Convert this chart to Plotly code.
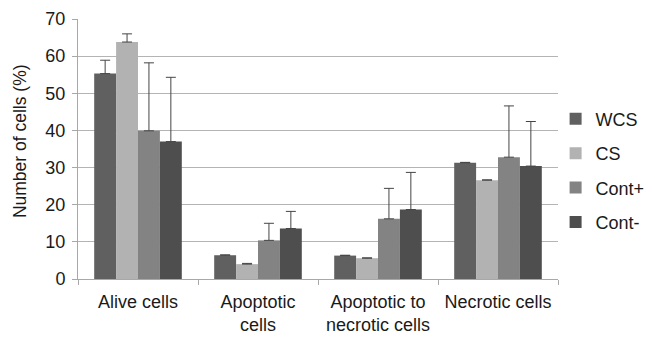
import plotly.graph_objects as go

categories = ["Alive cells", "Apoptotic<br>cells", "Apoptotic to<br>necrotic cells", "Necrotic cells"]
series_names = ["WCS", "CS", "Cont+", "Cont-"]
wcs = [55.3, 6.4, 6.3, 31.3]
cs = [63.8, 4.0, 5.6, 26.6]
cont_plus = [39.9, 10.4, 16.2, 32.8]
cont_minus = [37.0, 13.6, 18.7, 30.4]
wcs_err = [3.6, 0.1, 0.1, 0.1]
cs_err = [2.2, 0.2, 0.1, 0.1]
cont_plus_err = [18.3, 4.6, 8.2, 13.8]
cont_minus_err = [17.3, 4.6, 10.0, 12.0]
y_ticks = [0, 10, 20, 30, 40, 50, 60, 70]
y_title = "Number of cells (%)"

values = [wcs, cs, cont_plus, cont_minus]
errors = [wcs_err, cs_err, cont_plus_err, cont_minus_err]
colors = ["#606060", "#b2b2b2", "#838383", "#4e4e4e"]

FONT = "Liberation Sans, Arial, sans-serif"

fig = go.Figure()
for name, vals, errs, col in zip(series_names, values, errors, colors):
    fig.add_trace(go.Bar(
        name=name, x=categories, y=vals, legendgroup=name,
        marker=dict(color=col, line=dict(width=0)),
        error_y=dict(type="data", symmetric=False, array=errs,
                     arrayminus=[0] * len(errs), color="#454545",
                     thickness=1, width=5),
    ))

fig.update_layout(
    width=663, height=346,
    margin=dict(l=70, r=113, t=11, b=75),
    paper_bgcolor="white", plot_bgcolor="white",
    barmode="group", bargap=0.27, bargroupgap=0,
    font=dict(family=FONT, size=18, color="#1a1a1a"),
    legend=dict(x=0.995, y=0.417, xanchor="left", yanchor="middle",
                font=dict(size=18), traceorder="grouped",
                tracegroupgap=8, bgcolor="rgba(0,0,0,0)"),
    showlegend=True,
)
fig.add_annotation(
    text=y_title, xref="paper", yref="paper", x=-0.121, y=0.53,
    textangle=-90, showarrow=False, xanchor="center", yanchor="middle",
    font=dict(size=17.5, family=FONT, color="#1a1a1a"),
)
fig.update_xaxes(
    automargin=False, tickangle=0, ticklabelstandoff=6,
    showline=True, linecolor="#a8a8a8", linewidth=1,
    ticks="outside", tickson="boundaries", ticklen=5, tickcolor="#a8a8a8",
    tickfont=dict(size=18, family=FONT), showgrid=False,
)
fig.update_yaxes(
    automargin=False, ticklabelstandoff=3,
    range=[0, 70], tickvals=y_ticks, showgrid=True, gridcolor="#b4b4b4", gridwidth=1,
    showline=True, linecolor="#a8a8a8", linewidth=1,
    ticks="outside", ticklen=5, tickcolor="#a8a8a8",
    tickfont=dict(size=18, family=FONT), zeroline=False,
)

fig.write_html("out.html")
